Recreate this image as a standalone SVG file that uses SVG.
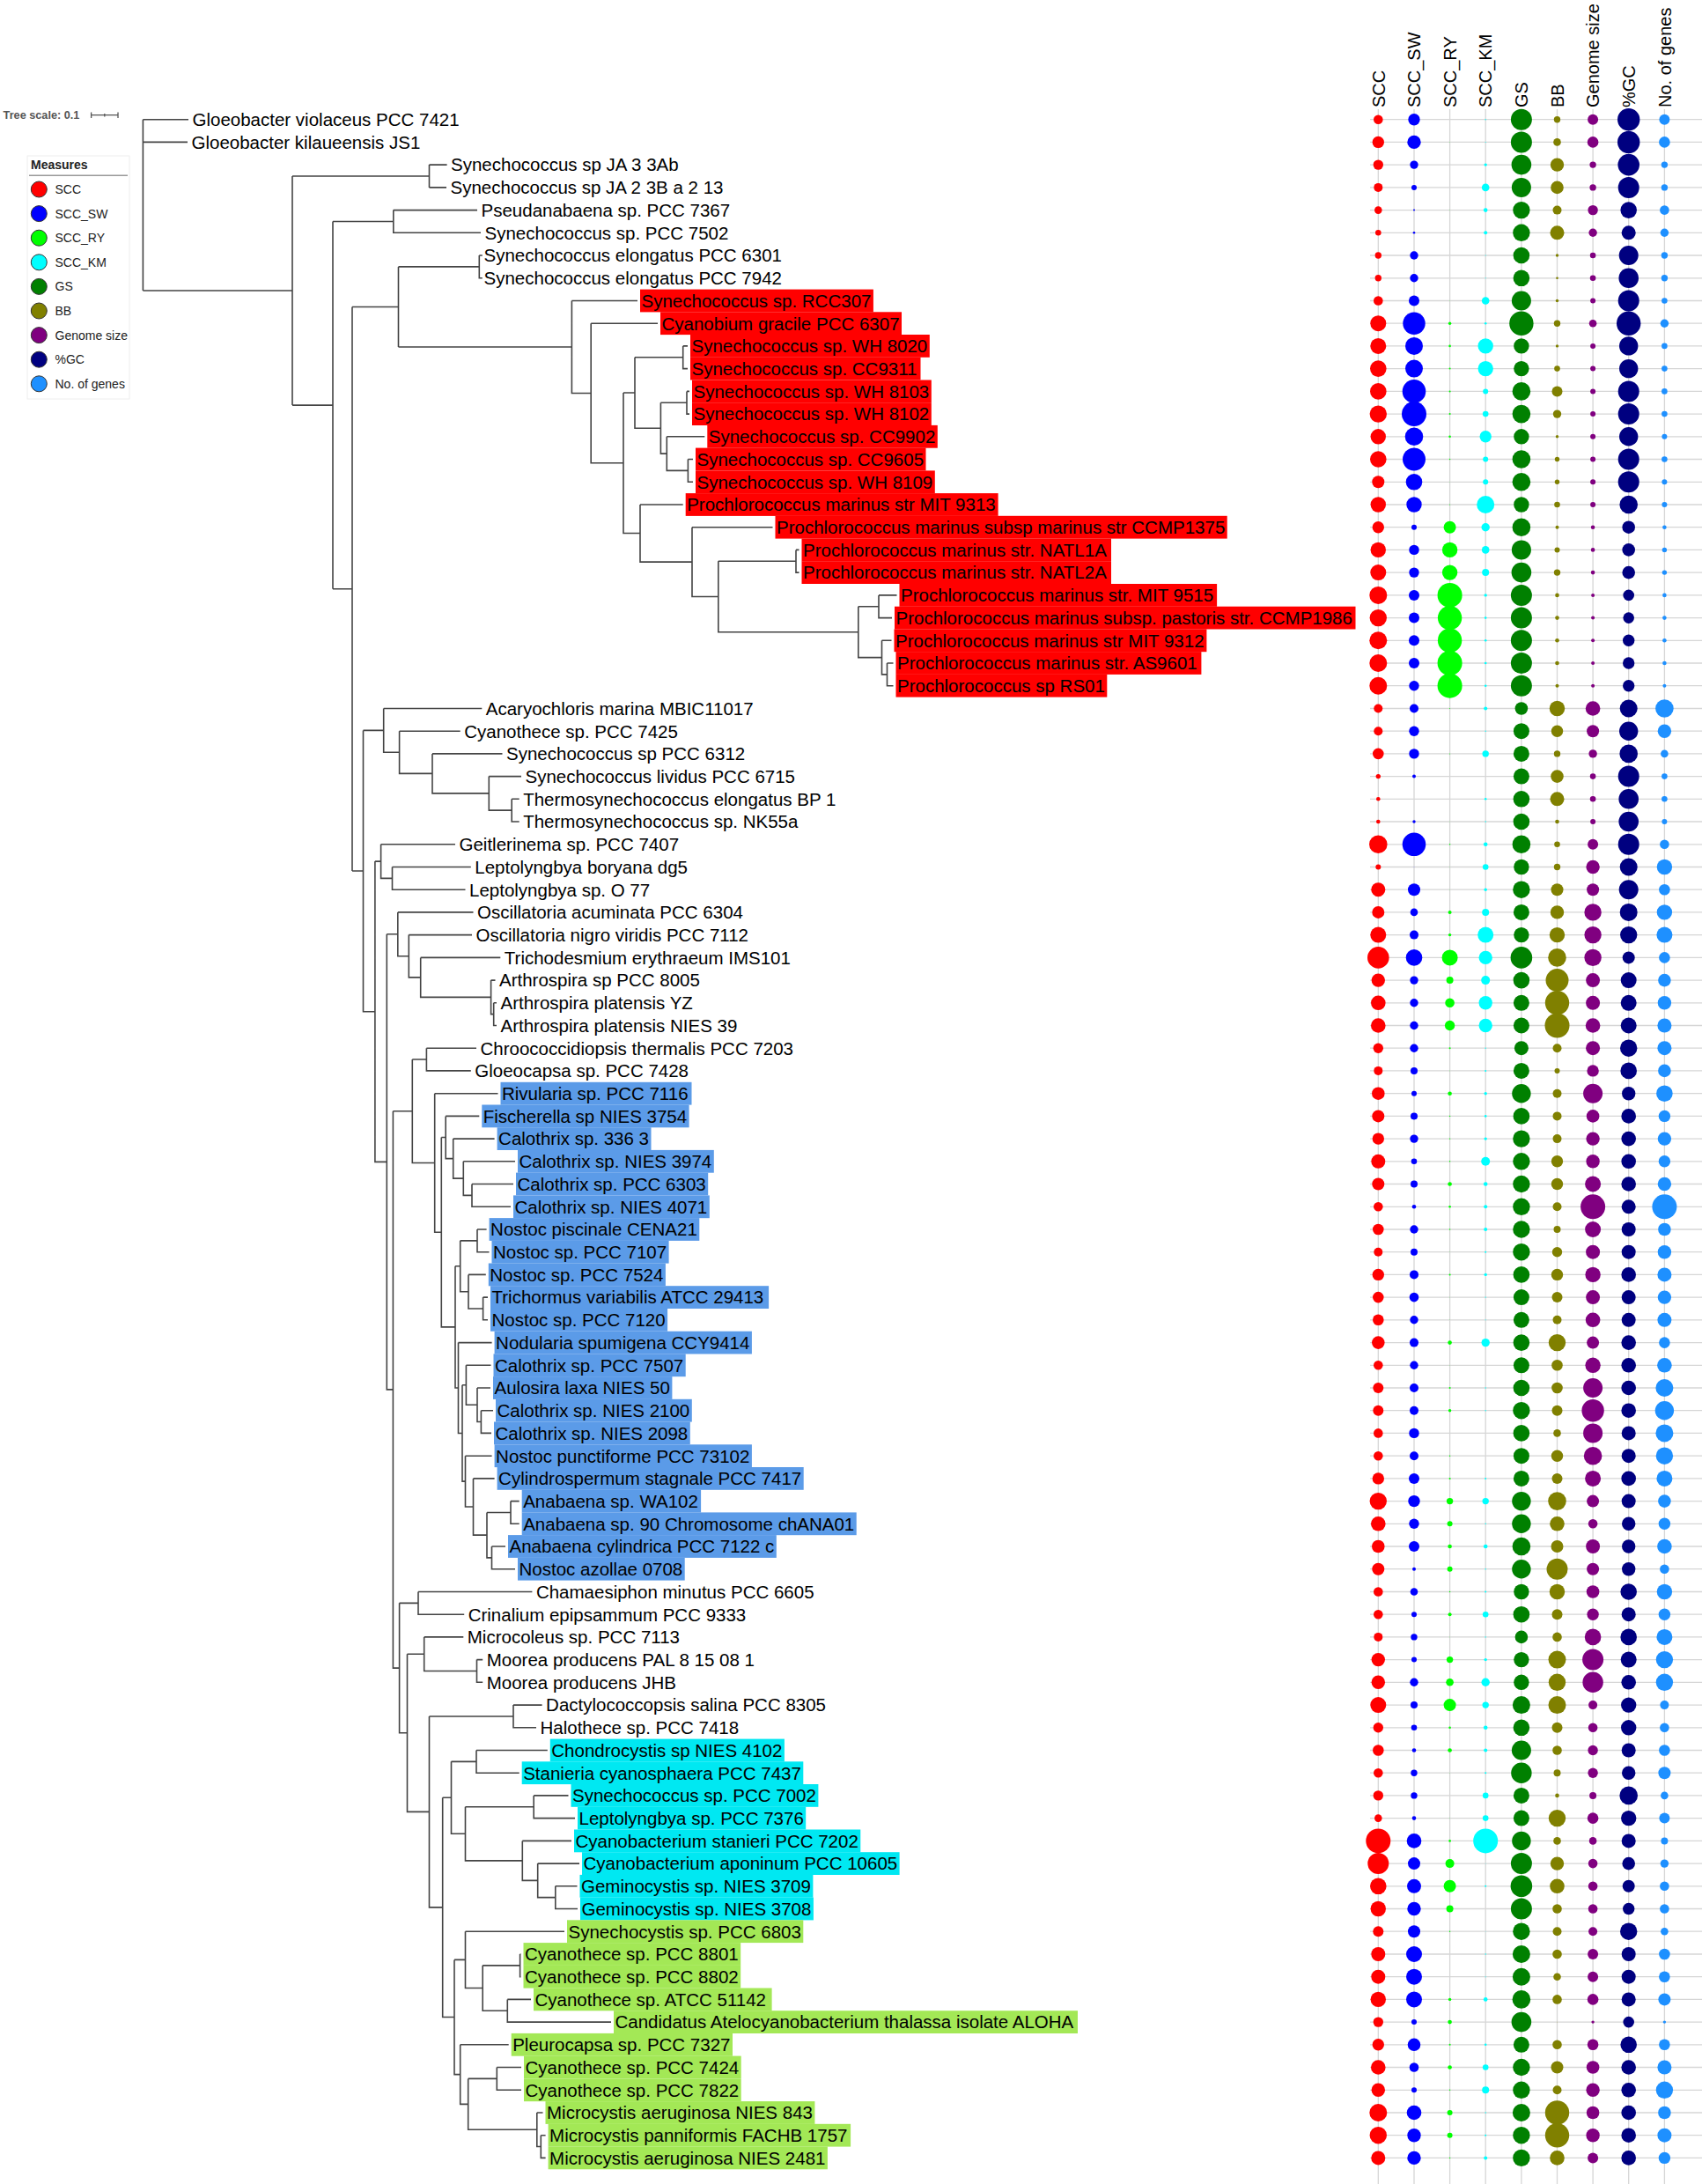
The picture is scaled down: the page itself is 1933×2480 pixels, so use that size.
<svg xmlns="http://www.w3.org/2000/svg" width="1933" height="2480" viewBox="0 0 1933 2480">
<style>
text{font-family:"Liberation Sans",Arial,sans-serif;font-size:20.5px;fill:#000}
.br{fill:none;stroke:#444;stroke-width:1.6}
.grid{fill:none;stroke:#d6d6d6;stroke-width:1.3}
.R{fill:#ff0000}.B{fill:#5b9be8}.C{fill:#00e8f2}.G{fill:#a3e856}
.a{fill:#ff0000}.b{fill:#0000ff}.c{fill:#00ff00}.d{fill:#00ffff}.e{fill:#008000}.f{fill:#808000}.g{fill:#800080}.h{fill:#000080}.k{fill:#1e90ff}
.hd{font-size:20px}
.lg{font-size:14px;fill:#222}
.lc{stroke:#333;stroke-width:1}
</style>
<rect width="1933" height="2480" fill="#fff"/>
<g id="grid" class="grid">
<path d="M1565.3 124V2480M1606 124V2480M1646.6 124V2480M1687.2 124V2480M1727.9 124V2480M1768.5 124V2480M1809.1 124V2480M1849.7 124V2480M1890.4 124V2480"/>
<path d="M1556 135.7H1933M1556 161.4H1933M1556 187.1H1933M1556 212.9H1933M1556 238.6H1933M1556 264.3H1933M1556 290H1933M1556 315.8H1933M1556 341.5H1933M1556 367.2H1933M1556 392.9H1933M1556 418.6H1933M1556 444.4H1933M1556 470.1H1933M1556 495.8H1933M1556 521.5H1933M1556 547.3H1933M1556 573H1933M1556 598.7H1933M1556 624.4H1933M1556 650.1H1933M1556 675.9H1933M1556 701.6H1933M1556 727.3H1933M1556 753H1933M1556 778.7H1933M1556 804.5H1933M1556 830.2H1933M1556 855.9H1933M1556 881.6H1933M1556 907.3H1933M1556 933H1933M1556 958.8H1933M1556 984.5H1933M1556 1010.2H1933M1556 1035.9H1933M1556 1061.6H1933M1556 1087.4H1933M1556 1113.1H1933M1556 1138.8H1933M1556 1164.5H1933M1556 1190.2H1933M1556 1215.9H1933M1556 1241.7H1933M1556 1267.4H1933M1556 1293.1H1933M1556 1318.8H1933M1556 1344.5H1933M1556 1370.3H1933M1556 1396H1933M1556 1421.7H1933M1556 1447.4H1933M1556 1473.1H1933M1556 1498.8H1933M1556 1524.6H1933M1556 1550.3H1933M1556 1576H1933M1556 1601.7H1933M1556 1627.4H1933M1556 1653.2H1933M1556 1678.9H1933M1556 1704.6H1933M1556 1730.3H1933M1556 1756H1933M1556 1781.7H1933M1556 1807.5H1933M1556 1833.2H1933M1556 1858.9H1933M1556 1884.6H1933M1556 1910.3H1933M1556 1936.1H1933M1556 1961.8H1933M1556 1987.5H1933M1556 2013.2H1933M1556 2038.9H1933M1556 2064.6H1933M1556 2090.4H1933M1556 2116.1H1933M1556 2141.8H1933M1556 2167.5H1933M1556 2193.2H1933M1556 2219H1933M1556 2244.7H1933M1556 2270.4H1933M1556 2296.1H1933M1556 2321.8H1933M1556 2347.5H1933M1556 2373.3H1933M1556 2399H1933M1556 2424.7H1933M1556 2450.4H1933"/>
</g>
<g id="headers" class="hd">
<text class="hd" transform="translate(1572.5,122) rotate(-90)">SCC</text>
<text class="hd" transform="translate(1613.2,122) rotate(-90)">SCC_SW</text>
<text class="hd" transform="translate(1653.8,122) rotate(-90)">SCC_RY</text>
<text class="hd" transform="translate(1694.4,122) rotate(-90)">SCC_KM</text>
<text class="hd" transform="translate(1735.1,122) rotate(-90)">GS</text>
<text class="hd" transform="translate(1775.7,122) rotate(-90)">BB</text>
<text class="hd" transform="translate(1816.3,122) rotate(-90)">Genome size</text>
<text class="hd" transform="translate(1856.9,122) rotate(-90)">%GC</text>
<text class="hd" transform="translate(1897.6,122) rotate(-90)">No. of genes</text>
</g>
<g id="branches" class="br">
<path d="M162.4,135.7V330.05M162.4,135.7H214M162.4,161.4H213M162.4,330.05H332
M332,200V460.1M332,200H487.5M332,460.1H378
M487.5,187.1V212.9M487.5,187.1H507.6M487.5,212.9H507
M378,251.45V668.75M378,251.45H446.8M378,668.75H400
M446.8,238.6V264.3H546M446.8,238.6H542
M400,348.45V989.05M400,348.45H452.5M400,989.05H412.5
M452.5,302.9V394M452.5,302.9H544.3M452.5,394H649.4
M544.3,290V315.8H547.8M544.3,290H547.8
M649.4,341.5V446.5H671.2M649.4,341.5H724
M671.2,367.2V525.8H708M671.2,367.2H747
M708,446V605.55H727M708,446H721
M721,405.75V486.2H750.4M721,405.75H775.7
M775.7,392.9V418.6H781M775.7,392.9H781
M750.4,457.25V515.1H757.3M750.4,457.25H780
M780,444.4V470.1H783M780,444.4H783
M757.3,495.8V534.4H781.4M757.3,495.8H800.3
M781.4,521.5V547.3H787M781.4,521.5H787
M727,573V638.1H786M727,573H775.7
M786,598.7V677.5H815.8M786,598.7H877.5
M815.8,637.25V717.7H974.8M815.8,637.25H904
M904,624.4V650.1H907.5M904,624.4H907.5
M974.8,688.75V746.6H1001.5M974.8,688.75H998
M998,675.9V701.6H1013M998,675.9H1018.5
M1001.5,727.3V765.85H1007.5M1001.5,727.3H1012.5
M1007.5,753V778.7H1014.5M1007.5,753H1014.5"/>
<path d="M412.5,829.4V1148.7H425.9M412.5,829.4H435.7
M435.7,804.5V854.3H453.6M435.7,804.5H547.3
M453.6,830.2V878.4H491M453.6,830.2H522.7
M491,855.9V900.9H555.3M491,855.9H570.5
M555.3,881.6V920.15H581.2M555.3,881.6H592
M581.2,907.3V933H589.7M581.2,907.3H589.7
M425.9,978.1V1319.35H439.3M425.9,978.1H432.6
M432.6,958.8V997.35H445.5M432.6,958.8H517
M445.5,984.5V1010.2H528.5M445.5,984.5H534.8
M439.3,1060.8V1577.9H446.4M439.3,1060.8H451.8
M451.8,1035.9V1085.75H464.3M451.8,1035.9H537.5
M464.3,1061.6V1109.9H477.7M464.3,1061.6H536
M477.7,1087.4V1132.4H557.6M477.7,1087.4H568.3
M557.6,1113.1V1151.65H560.7M557.6,1113.1H562.5
M560.7,1138.8V1164.5H564M560.7,1138.8H564
M446.4,1261.75V1894.1H453.6M446.4,1261.75H468.3
M468.3,1203.05V1320.45H493.7M468.3,1203.05H484.4
M484.4,1190.2V1215.9H534.8M484.4,1190.2H541
M493.7,1241.7V1399.2H501.3M493.7,1241.7H565.5
M501.3,1291.5V1506.9H517M501.3,1291.5H506.2
M506.2,1267.4V1315.6H514.7M506.2,1267.4H544.3
M514.7,1293.1V1338.1H526.3M514.7,1293.1H561.6
M526.3,1318.8V1357.4H536M526.3,1318.8H585
M536,1344.5V1370.3H580M536,1344.5H583
M517,1437.8V1576H520.5M517,1437.8H522.7
M522.7,1408.85V1466.7H532M522.7,1408.85H542
M542,1396V1421.7H555.5M542,1396H552.6
M532,1447.4V1485.95H548.6M532,1447.4H551.8
M548.6,1473.1V1498.8H554M548.6,1473.1H554
M520.5,1524.6V1627.45H525M520.5,1524.6H558.6
M525,1572.8V1682.1H528.5M525,1572.8H529.4
M529.4,1550.3V1595.3H542M529.4,1550.3H557.5
M542,1576V1614.55H546.4M542,1576H557
M546.4,1601.7V1627.4H558M546.4,1601.7H560
M528.5,1653.2V1711H537.5M528.5,1653.2H558.6
M537.5,1678.9V1743.15H553M537.5,1678.9H561.6
M553,1717.45V1768.85H558.5M553,1717.45H580
M580,1704.6V1730.3H589.7M580,1704.6H589.7
M558.5,1756V1781.7H585M558.5,1756H574"/>
<path d="M453.6,1820.35V1967.8H462.5M453.6,1820.35H475
M475,1807.5V1833.2H527.2M475,1807.5H604.4
M462.5,1878.2V2057.4H487.5M462.5,1878.2H481.7
M481.7,1858.9V1897.45H541.5M481.7,1858.9H526.3
M541.5,1884.6V1910.3H548.2M541.5,1884.6H548.2
M487.5,1948.95V2165.9H502.7M487.5,1948.95H583
M583,1936.1V1961.8H609M583,1936.1H615.6
M502.7,2041.3V2290.5H516M502.7,2041.3H512.5
M512.5,2000.35V2082.3H528.5M512.5,2000.35H541
M541,1987.5V2013.2H589.7M541,1987.5H621.8
M528.5,2051.75V2112.9H593.3M528.5,2051.75H606.2
M606.2,2038.9V2064.6H653M606.2,2038.9H645.5
M593.3,2090.4V2135.4H610.7M593.3,2090.4H649
M610.7,2116.1V2154.65H630.8M610.7,2116.1H658
M630.8,2141.8V2167.5H656M630.8,2141.8H655.5
M516,2225.4V2355.6H522.7M516,2225.4H528.5
M528.5,2193.2V2257.55H548.2M528.5,2193.2H641
M548.2,2231.85V2283.25H576.3M548.2,2231.85H590.6
M590.6,2219V2244.7H591.5M590.6,2219H591.5
M576.3,2270.4V2296.1H694M576.3,2270.4H603
M522.7,2321.8V2389.35H531.7M522.7,2321.8H577.7
M531.7,2360.4V2418.3H609.8M531.7,2360.4H564.3
M564.3,2347.5V2373.3H592M564.3,2347.5H592
M609.8,2399V2437.55H614.3M609.8,2399H616.5
M614.3,2424.7V2450.4H619.6M614.3,2424.7H619.6"/>
</g>
<g id="leaves">
<g id="n1" transform="translate(0,135.7)"><text x="218.5" y="7.3">Gloeobacter violaceus PCC 7421</text><circle class="a" cx="1565.3" r="5.3"/><circle class="b" cx="1606" r="6.7"/><circle class="d" cx="1687.2" r="0.7"/><circle class="e" cx="1727.9" r="12"/><circle class="f" cx="1768.5" r="3.7"/><circle class="g" cx="1809.1" r="6"/><circle class="h" cx="1849.7" r="12.7"/><circle class="k" cx="1890.4" r="6"/></g>
<g id="n2" transform="translate(0,161.4)"><text x="217.5" y="7.3">Gloeobacter kilaueensis JS1</text><circle class="a" cx="1565.3" r="6.7"/><circle class="b" cx="1606" r="7.7"/><circle class="c" cx="1646.6" r="0.3"/><circle class="d" cx="1687.2" r="0.5"/><circle class="e" cx="1727.9" r="12"/><circle class="f" cx="1768.5" r="4.3"/><circle class="g" cx="1809.1" r="6.3"/><circle class="h" cx="1849.7" r="12.7"/><circle class="k" cx="1890.4" r="6.3"/></g>
<g id="n3" transform="translate(0,187.1)"><text x="512" y="7.3">Synechococcus sp JA 3 3Ab</text><circle class="a" cx="1565.3" r="5.7"/><circle class="b" cx="1606" r="4.7"/><circle class="d" cx="1687.2" r="1.7"/><circle class="e" cx="1727.9" r="11.3"/><circle class="f" cx="1768.5" r="7.7"/><circle class="g" cx="1809.1" r="3.7"/><circle class="h" cx="1849.7" r="12.3"/><circle class="k" cx="1890.4" r="3.7"/></g>
<g id="n4" transform="translate(0,212.9)"><text x="511.5" y="7.3">Synechococcus sp JA 2 3B a 2 13</text><circle class="a" cx="1565.3" r="5"/><circle class="b" cx="1606" r="3"/><circle class="d" cx="1687.2" r="4.3"/><circle class="e" cx="1727.9" r="11"/><circle class="f" cx="1768.5" r="7.3"/><circle class="g" cx="1809.1" r="3.7"/><circle class="h" cx="1849.7" r="12"/><circle class="k" cx="1890.4" r="3.7"/></g>
<g id="n5" transform="translate(0,238.6)"><text x="546.5" y="7.3">Pseudanabaena sp. PCC 7367</text><circle class="a" cx="1565.3" r="4.3"/><circle class="b" cx="1606" r="1"/><circle class="c" cx="1646.6" r="0.3"/><circle class="d" cx="1687.2" r="2.3"/><circle class="e" cx="1727.9" r="9.7"/><circle class="f" cx="1768.5" r="5"/><circle class="g" cx="1809.1" r="5.7"/><circle class="h" cx="1849.7" r="9.3"/><circle class="k" cx="1890.4" r="5.3"/></g>
<g id="n6" transform="translate(0,264.3)"><text x="550.5" y="7.3">Synechococcus sp. PCC 7502</text><circle class="a" cx="1565.3" r="3.3"/><circle class="b" cx="1606" r="1.3"/><circle class="d" cx="1687.2" r="2"/><circle class="e" cx="1727.9" r="9.7"/><circle class="f" cx="1768.5" r="8"/><circle class="g" cx="1809.1" r="4.7"/><circle class="h" cx="1849.7" r="8"/><circle class="k" cx="1890.4" r="4.7"/></g>
<g id="n7" transform="translate(0,290)"><text x="549.5" y="7.3">Synechococcus elongatus PCC 6301</text><circle class="a" cx="1565.3" r="3.7"/><circle class="b" cx="1606" r="4.7"/><circle class="d" cx="1687.2" r="0.5"/><circle class="e" cx="1727.9" r="9.3"/><circle class="f" cx="1768.5" r="1.7"/><circle class="g" cx="1809.1" r="3.3"/><circle class="h" cx="1849.7" r="11"/><circle class="k" cx="1890.4" r="3.7"/></g>
<g id="n8" transform="translate(0,315.8)"><text x="549.5" y="7.3">Synechococcus elongatus PCC 7942</text><circle class="a" cx="1565.3" r="3.7"/><circle class="b" cx="1606" r="4.7"/><circle class="d" cx="1687.2" r="0.5"/><circle class="e" cx="1727.9" r="9.3"/><circle class="f" cx="1768.5" r="1.3"/><circle class="g" cx="1809.1" r="3.3"/><circle class="h" cx="1849.7" r="11.3"/><circle class="k" cx="1890.4" r="3.7"/></g>
<g id="n9" transform="translate(0,341.5)"><rect class="R" x="727" y="-12.9" width="264.9" height="25.8"/><text x="728.5" y="7.3">Synechococcus sp. RCC307</text><circle class="a" cx="1565.3" r="5.3"/><circle class="b" cx="1606" r="6"/><circle class="c" cx="1646.6" r="0.3"/><circle class="d" cx="1687.2" r="4.3"/><circle class="e" cx="1727.9" r="11"/><circle class="f" cx="1768.5" r="1.7"/><circle class="g" cx="1809.1" r="3"/><circle class="h" cx="1849.7" r="12"/><circle class="k" cx="1890.4" r="3.3"/></g>
<g id="n10" transform="translate(0,367.2)"><rect class="R" x="750" y="-12.9" width="274" height="25.8"/><text x="751.5" y="7.3">Cyanobium gracile PCC 6307</text><circle class="a" cx="1565.3" r="9"/><circle class="b" cx="1606" r="12.7"/><circle class="c" cx="1646.6" r="1.7"/><circle class="d" cx="1687.2" r="1.3"/><circle class="e" cx="1727.9" r="13.7"/><circle class="f" cx="1768.5" r="3.7"/><circle class="g" cx="1809.1" r="4.3"/><circle class="h" cx="1849.7" r="13.7"/><circle class="k" cx="1890.4" r="4.7"/></g>
<g id="n11" transform="translate(0,392.9)"><rect class="R" x="784" y="-12.9" width="271.8" height="25.8"/><text x="785.5" y="7.3">Synechococcus sp. WH 8020</text><circle class="a" cx="1565.3" r="9"/><circle class="b" cx="1606" r="10"/><circle class="c" cx="1646.6" r="1.3"/><circle class="d" cx="1687.2" r="8.7"/><circle class="e" cx="1727.9" r="8.7"/><circle class="f" cx="1768.5" r="1.7"/><circle class="g" cx="1809.1" r="3"/><circle class="h" cx="1849.7" r="10.7"/><circle class="k" cx="1890.4" r="3.3"/></g>
<g id="n12" transform="translate(0,418.6)"><rect class="R" x="784" y="-12.9" width="261.5" height="25.8"/><text x="785.5" y="7.3">Synechococcus sp. CC9311</text><circle class="a" cx="1565.3" r="9.3"/><circle class="b" cx="1606" r="10"/><circle class="c" cx="1646.6" r="1"/><circle class="d" cx="1687.2" r="8.7"/><circle class="e" cx="1727.9" r="8.7"/><circle class="f" cx="1768.5" r="3.3"/><circle class="g" cx="1809.1" r="3"/><circle class="h" cx="1849.7" r="10.7"/><circle class="k" cx="1890.4" r="3.3"/></g>
<g id="n13" transform="translate(0,444.4)"><rect class="R" x="786" y="-12.9" width="271.8" height="25.8"/><text x="787.5" y="7.3">Synechococcus sp. WH 8103</text><circle class="a" cx="1565.3" r="9.3"/><circle class="b" cx="1606" r="13.3"/><circle class="c" cx="1646.6" r="1"/><circle class="d" cx="1687.2" r="3"/><circle class="e" cx="1727.9" r="10.3"/><circle class="f" cx="1768.5" r="6"/><circle class="g" cx="1809.1" r="3"/><circle class="h" cx="1849.7" r="12"/><circle class="k" cx="1890.4" r="3.3"/></g>
<g id="n14" transform="translate(0,470.1)"><rect class="R" x="786" y="-12.9" width="271.8" height="25.8"/><text x="787.5" y="7.3">Synechococcus sp. WH 8102</text><circle class="a" cx="1565.3" r="9.7"/><circle class="b" cx="1606" r="14"/><circle class="c" cx="1646.6" r="1"/><circle class="d" cx="1687.2" r="3.3"/><circle class="e" cx="1727.9" r="10.3"/><circle class="f" cx="1768.5" r="4.7"/><circle class="g" cx="1809.1" r="3"/><circle class="h" cx="1849.7" r="12"/><circle class="k" cx="1890.4" r="3.3"/></g>
<g id="n15" transform="translate(0,495.8)"><rect class="R" x="803.3" y="-12.9" width="261.5" height="25.8"/><text x="804.8" y="7.3">Synechococcus sp. CC9902</text><circle class="a" cx="1565.3" r="8.7"/><circle class="b" cx="1606" r="10.3"/><circle class="c" cx="1646.6" r="1.3"/><circle class="d" cx="1687.2" r="6.7"/><circle class="e" cx="1727.9" r="8.7"/><circle class="f" cx="1768.5" r="1.7"/><circle class="g" cx="1809.1" r="3"/><circle class="h" cx="1849.7" r="10.7"/><circle class="k" cx="1890.4" r="3"/></g>
<g id="n16" transform="translate(0,521.5)"><rect class="R" x="790" y="-12.9" width="261.5" height="25.8"/><text x="791.5" y="7.3">Synechococcus sp. CC9605</text><circle class="a" cx="1565.3" r="9.3"/><circle class="b" cx="1606" r="13"/><circle class="c" cx="1646.6" r="0.7"/><circle class="d" cx="1687.2" r="3"/><circle class="e" cx="1727.9" r="10.3"/><circle class="f" cx="1768.5" r="2.7"/><circle class="g" cx="1809.1" r="3"/><circle class="h" cx="1849.7" r="12"/><circle class="k" cx="1890.4" r="3.3"/></g>
<g id="n17" transform="translate(0,547.3)"><rect class="R" x="790" y="-12.9" width="271.8" height="25.8"/><text x="791.5" y="7.3">Synechococcus sp. WH 8109</text><circle class="a" cx="1565.3" r="7"/><circle class="b" cx="1606" r="9.3"/><circle class="c" cx="1646.6" r="0.3"/><circle class="d" cx="1687.2" r="3"/><circle class="e" cx="1727.9" r="10.3"/><circle class="f" cx="1768.5" r="2.7"/><circle class="g" cx="1809.1" r="3"/><circle class="h" cx="1849.7" r="12"/><circle class="k" cx="1890.4" r="3"/></g>
<g id="n18" transform="translate(0,573)"><rect class="R" x="778.7" y="-12.9" width="354.9" height="25.8"/><text x="780.2" y="7.3">Prochlorococcus marinus str MIT 9313</text><circle class="a" cx="1565.3" r="8.7"/><circle class="b" cx="1606" r="8.7"/><circle class="c" cx="1646.6" r="0.5"/><circle class="d" cx="1687.2" r="10"/><circle class="e" cx="1727.9" r="8.7"/><circle class="f" cx="1768.5" r="3.3"/><circle class="g" cx="1809.1" r="3"/><circle class="h" cx="1849.7" r="10.3"/><circle class="k" cx="1890.4" r="3"/></g>
<g id="n19" transform="translate(0,598.7)"><rect class="R" x="880.5" y="-12.9" width="513.2" height="25.8"/><text x="882" y="7.3">Prochlorococcus marinus subsp marinus str CCMP1375</text><circle class="a" cx="1565.3" r="6.7"/><circle class="b" cx="1606" r="3"/><circle class="c" cx="1646.6" r="7"/><circle class="d" cx="1687.2" r="4.7"/><circle class="e" cx="1727.9" r="10.3"/><circle class="f" cx="1768.5" r="2"/><circle class="g" cx="1809.1" r="2.3"/><circle class="h" cx="1849.7" r="7.3"/><circle class="k" cx="1890.4" r="2.3"/></g>
<g id="n20" transform="translate(0,624.4)"><rect class="R" x="910.5" y="-12.9" width="351.5" height="25.8"/><text x="912" y="7.3">Prochlorococcus marinus str. NATL1A</text><circle class="a" cx="1565.3" r="8.7"/><circle class="b" cx="1606" r="5.7"/><circle class="c" cx="1646.6" r="8.7"/><circle class="d" cx="1687.2" r="4.3"/><circle class="e" cx="1727.9" r="11"/><circle class="f" cx="1768.5" r="3"/><circle class="g" cx="1809.1" r="2.3"/><circle class="h" cx="1849.7" r="7.3"/><circle class="k" cx="1890.4" r="2.7"/></g>
<g id="n21" transform="translate(0,650.1)"><rect class="R" x="910.5" y="-12.9" width="351.5" height="25.8"/><text x="912" y="7.3">Prochlorococcus marinus str. NATL2A</text><circle class="a" cx="1565.3" r="9"/><circle class="b" cx="1606" r="5.7"/><circle class="c" cx="1646.6" r="8.7"/><circle class="d" cx="1687.2" r="4"/><circle class="e" cx="1727.9" r="11.3"/><circle class="f" cx="1768.5" r="3.7"/><circle class="g" cx="1809.1" r="2.3"/><circle class="h" cx="1849.7" r="7.3"/><circle class="k" cx="1890.4" r="2.7"/></g>
<g id="n22" transform="translate(0,675.9)"><rect class="R" x="1021.5" y="-12.9" width="360.6" height="25.8"/><text x="1023" y="7.3">Prochlorococcus marinus str. MIT 9515</text><circle class="a" cx="1565.3" r="10"/><circle class="b" cx="1606" r="6"/><circle class="c" cx="1646.6" r="14"/><circle class="d" cx="1687.2" r="1.7"/><circle class="e" cx="1727.9" r="12"/><circle class="f" cx="1768.5" r="2.3"/><circle class="g" cx="1809.1" r="2"/><circle class="h" cx="1849.7" r="6.3"/><circle class="k" cx="1890.4" r="2.3"/></g>
<g id="n23" transform="translate(0,701.6)"><rect class="R" x="1016" y="-12.9" width="523.5" height="25.8"/><text x="1017.5" y="7.3">Prochlorococcus marinus subsp. pastoris str. CCMP1986</text><circle class="a" cx="1565.3" r="9.7"/><circle class="b" cx="1606" r="6"/><circle class="c" cx="1646.6" r="13.7"/><circle class="d" cx="1687.2" r="1.3"/><circle class="e" cx="1727.9" r="12"/><circle class="f" cx="1768.5" r="2.3"/><circle class="g" cx="1809.1" r="2"/><circle class="h" cx="1849.7" r="6.3"/><circle class="k" cx="1890.4" r="2.3"/></g>
<g id="n24" transform="translate(0,727.3)"><rect class="R" x="1015.5" y="-12.9" width="354.9" height="25.8"/><text x="1017" y="7.3">Prochlorococcus marinus str MIT 9312</text><circle class="a" cx="1565.3" r="10"/><circle class="b" cx="1606" r="6"/><circle class="c" cx="1646.6" r="13.7"/><circle class="d" cx="1687.2" r="1.3"/><circle class="e" cx="1727.9" r="12"/><circle class="f" cx="1768.5" r="2.3"/><circle class="g" cx="1809.1" r="2"/><circle class="h" cx="1849.7" r="6.7"/><circle class="k" cx="1890.4" r="2.3"/></g>
<g id="n25" transform="translate(0,753)"><rect class="R" x="1017.5" y="-12.9" width="346.9" height="25.8"/><text x="1019" y="7.3">Prochlorococcus marinus str. AS9601</text><circle class="a" cx="1565.3" r="10"/><circle class="b" cx="1606" r="6"/><circle class="c" cx="1646.6" r="14"/><circle class="d" cx="1687.2" r="1.3"/><circle class="e" cx="1727.9" r="12"/><circle class="f" cx="1768.5" r="2.3"/><circle class="g" cx="1809.1" r="2"/><circle class="h" cx="1849.7" r="6.7"/><circle class="k" cx="1890.4" r="2.3"/></g>
<g id="n26" transform="translate(0,778.7)"><rect class="R" x="1017.5" y="-12.9" width="239.8" height="25.8"/><text x="1019" y="7.3">Prochlorococcus sp RS01</text><circle class="a" cx="1565.3" r="10"/><circle class="b" cx="1606" r="5.7"/><circle class="c" cx="1646.6" r="14"/><circle class="d" cx="1687.2" r="1.3"/><circle class="e" cx="1727.9" r="12"/><circle class="f" cx="1768.5" r="2"/><circle class="g" cx="1809.1" r="2"/><circle class="h" cx="1849.7" r="6.7"/><circle class="k" cx="1890.4" r="2"/></g>
<g id="n27" transform="translate(0,804.5)"><text x="551.8" y="7.3">Acaryochloris marina MBIC11017</text><circle class="a" cx="1565.3" r="5"/><circle class="b" cx="1606" r="5"/><circle class="c" cx="1646.6" r="0.5"/><circle class="d" cx="1687.2" r="2"/><circle class="e" cx="1727.9" r="7.3"/><circle class="f" cx="1768.5" r="8.7"/><circle class="g" cx="1809.1" r="8.3"/><circle class="h" cx="1849.7" r="10"/><circle class="k" cx="1890.4" r="10.3"/></g>
<g id="n28" transform="translate(0,830.2)"><text x="527.2" y="7.3">Cyanothece sp. PCC 7425</text><circle class="a" cx="1565.3" r="5"/><circle class="b" cx="1606" r="5.7"/><circle class="d" cx="1687.2" r="0.7"/><circle class="e" cx="1727.9" r="9"/><circle class="f" cx="1768.5" r="6.7"/><circle class="g" cx="1809.1" r="7"/><circle class="h" cx="1849.7" r="10.7"/><circle class="k" cx="1890.4" r="7.7"/></g>
<g id="n29" transform="translate(0,855.9)"><text x="575" y="7.3">Synechococcus sp PCC 6312</text><circle class="a" cx="1565.3" r="6.3"/><circle class="b" cx="1606" r="5.7"/><circle class="c" cx="1646.6" r="0.5"/><circle class="d" cx="1687.2" r="3.7"/><circle class="e" cx="1727.9" r="9"/><circle class="f" cx="1768.5" r="3.7"/><circle class="g" cx="1809.1" r="4.7"/><circle class="h" cx="1849.7" r="10.3"/><circle class="k" cx="1890.4" r="4.3"/></g>
<g id="n30" transform="translate(0,881.6)"><text x="596.5" y="7.3">Synechococcus lividus PCC 6715</text><circle class="a" cx="1565.3" r="2.7"/><circle class="b" cx="1606" r="2"/><circle class="e" cx="1727.9" r="9"/><circle class="f" cx="1768.5" r="7.3"/><circle class="g" cx="1809.1" r="3.3"/><circle class="h" cx="1849.7" r="12"/><circle class="k" cx="1890.4" r="3.3"/></g>
<g id="n31" transform="translate(0,907.3)"><text x="594.2" y="7.3">Thermosynechococcus elongatus BP 1</text><circle class="a" cx="1565.3" r="2.3"/><circle class="d" cx="1687.2" r="1.3"/><circle class="e" cx="1727.9" r="9.3"/><circle class="f" cx="1768.5" r="8"/><circle class="g" cx="1809.1" r="3.3"/><circle class="h" cx="1849.7" r="11.3"/><circle class="k" cx="1890.4" r="3.3"/></g>
<g id="n32" transform="translate(0,933)"><text x="594.2" y="7.3">Thermosynechococcus sp. NK55a</text><circle class="a" cx="1565.3" r="2.3"/><circle class="b" cx="1606" r="1.7"/><circle class="c" cx="1646.6" r="0.3"/><circle class="d" cx="1687.2" r="0.7"/><circle class="e" cx="1727.9" r="9.3"/><circle class="f" cx="1768.5" r="2.3"/><circle class="g" cx="1809.1" r="3"/><circle class="h" cx="1849.7" r="11.3"/><circle class="k" cx="1890.4" r="3"/></g>
<g id="n33" transform="translate(0,958.8)"><text x="521.5" y="7.3">Geitlerinema sp. PCC 7407</text><circle class="a" cx="1565.3" r="10.3"/><circle class="b" cx="1606" r="13.3"/><circle class="c" cx="1646.6" r="0.7"/><circle class="d" cx="1687.2" r="2.3"/><circle class="e" cx="1727.9" r="10.3"/><circle class="f" cx="1768.5" r="3.3"/><circle class="g" cx="1809.1" r="6"/><circle class="h" cx="1849.7" r="12"/><circle class="k" cx="1890.4" r="5.3"/></g>
<g id="n34" transform="translate(0,984.5)"><text x="539.3" y="7.3">Leptolyngbya boryana dg5</text><circle class="a" cx="1565.3" r="3"/><circle class="b" cx="1606" r="0.3"/><circle class="c" cx="1646.6" r="0.3"/><circle class="d" cx="1687.2" r="3.3"/><circle class="e" cx="1727.9" r="8.7"/><circle class="f" cx="1768.5" r="3.7"/><circle class="g" cx="1809.1" r="7.7"/><circle class="h" cx="1849.7" r="10"/><circle class="k" cx="1890.4" r="8.7"/></g>
<g id="n35" transform="translate(0,1010.2)"><text x="533" y="7.3">Leptolyngbya sp. O 77</text><circle class="a" cx="1565.3" r="8"/><circle class="b" cx="1606" r="7"/><circle class="c" cx="1646.6" r="0.3"/><circle class="d" cx="1687.2" r="1.7"/><circle class="e" cx="1727.9" r="9.7"/><circle class="f" cx="1768.5" r="7"/><circle class="g" cx="1809.1" r="7"/><circle class="h" cx="1849.7" r="11"/><circle class="k" cx="1890.4" r="6.3"/></g>
<g id="n36" transform="translate(0,1035.9)"><text x="542" y="7.3">Oscillatoria acuminata PCC 6304</text><circle class="a" cx="1565.3" r="7"/><circle class="b" cx="1606" r="4.3"/><circle class="c" cx="1646.6" r="2"/><circle class="d" cx="1687.2" r="4"/><circle class="e" cx="1727.9" r="9"/><circle class="f" cx="1768.5" r="7.7"/><circle class="g" cx="1809.1" r="9.7"/><circle class="h" cx="1849.7" r="10"/><circle class="k" cx="1890.4" r="8.7"/></g>
<g id="n37" transform="translate(0,1061.6)"><text x="540.5" y="7.3">Oscillatoria nigro viridis PCC 7112</text><circle class="a" cx="1565.3" r="9"/><circle class="b" cx="1606" r="5"/><circle class="c" cx="1646.6" r="1.7"/><circle class="d" cx="1687.2" r="9"/><circle class="e" cx="1727.9" r="8.7"/><circle class="f" cx="1768.5" r="8.7"/><circle class="g" cx="1809.1" r="9.7"/><circle class="h" cx="1849.7" r="9.7"/><circle class="k" cx="1890.4" r="9"/></g>
<g id="n38" transform="translate(0,1087.4)"><text x="572.8" y="7.3">Trichodesmium erythraeum IMS101</text><circle class="a" cx="1565.3" r="12.3"/><circle class="b" cx="1606" r="9.3"/><circle class="c" cx="1646.6" r="9"/><circle class="d" cx="1687.2" r="7.7"/><circle class="e" cx="1727.9" r="12.3"/><circle class="f" cx="1768.5" r="10.3"/><circle class="g" cx="1809.1" r="9.7"/><circle class="h" cx="1849.7" r="7"/><circle class="k" cx="1890.4" r="6.3"/></g>
<g id="n39" transform="translate(0,1113.1)"><text x="567" y="7.3">Arthrospira sp PCC 8005</text><circle class="a" cx="1565.3" r="7.7"/><circle class="b" cx="1606" r="4.7"/><circle class="c" cx="1646.6" r="4"/><circle class="d" cx="1687.2" r="5"/><circle class="e" cx="1727.9" r="9.3"/><circle class="f" cx="1768.5" r="13"/><circle class="g" cx="1809.1" r="8"/><circle class="h" cx="1849.7" r="9"/><circle class="k" cx="1890.4" r="7.3"/></g>
<g id="n40" transform="translate(0,1138.8)"><text x="568.5" y="7.3">Arthrospira platensis YZ</text><circle class="a" cx="1565.3" r="8.3"/><circle class="b" cx="1606" r="4.7"/><circle class="c" cx="1646.6" r="5.3"/><circle class="d" cx="1687.2" r="7.7"/><circle class="e" cx="1727.9" r="9"/><circle class="f" cx="1768.5" r="13.7"/><circle class="g" cx="1809.1" r="8"/><circle class="h" cx="1849.7" r="9"/><circle class="k" cx="1890.4" r="7.7"/></g>
<g id="n41" transform="translate(0,1164.5)"><text x="568.5" y="7.3">Arthrospira platensis NIES 39</text><circle class="a" cx="1565.3" r="8.3"/><circle class="b" cx="1606" r="4.7"/><circle class="c" cx="1646.6" r="5.7"/><circle class="d" cx="1687.2" r="7.7"/><circle class="e" cx="1727.9" r="9"/><circle class="f" cx="1768.5" r="14"/><circle class="g" cx="1809.1" r="8.3"/><circle class="h" cx="1849.7" r="9"/><circle class="k" cx="1890.4" r="8"/></g>
<g id="n42" transform="translate(0,1190.2)"><text x="545.5" y="7.3">Chroococcidiopsis thermalis PCC 7203</text><circle class="a" cx="1565.3" r="5.7"/><circle class="b" cx="1606" r="4.7"/><circle class="c" cx="1646.6" r="1"/><circle class="d" cx="1687.2" r="0.7"/><circle class="e" cx="1727.9" r="8"/><circle class="f" cx="1768.5" r="5"/><circle class="g" cx="1809.1" r="8"/><circle class="h" cx="1849.7" r="9.7"/><circle class="k" cx="1890.4" r="8"/></g>
<g id="n43" transform="translate(0,1215.9)"><text x="539.3" y="7.3">Gloeocapsa sp. PCC 7428</text><circle class="a" cx="1565.3" r="5"/><circle class="b" cx="1606" r="4"/><circle class="c" cx="1646.6" r="0.3"/><circle class="d" cx="1687.2" r="1"/><circle class="e" cx="1727.9" r="9"/><circle class="f" cx="1768.5" r="3"/><circle class="g" cx="1809.1" r="6.7"/><circle class="h" cx="1849.7" r="9.3"/><circle class="k" cx="1890.4" r="7.3"/></g>
<g id="n44" transform="translate(0,1241.7)"><rect class="B" x="568.5" y="-12.9" width="217" height="25.8"/><text x="570" y="7.3">Rivularia sp. PCC 7116</text><circle class="a" cx="1565.3" r="7.3"/><circle class="b" cx="1606" r="3"/><circle class="c" cx="1646.6" r="2.3"/><circle class="d" cx="1687.2" r="1.7"/><circle class="e" cx="1727.9" r="10.7"/><circle class="f" cx="1768.5" r="5"/><circle class="g" cx="1809.1" r="11"/><circle class="h" cx="1849.7" r="7.7"/><circle class="k" cx="1890.4" r="9.3"/></g>
<g id="n45" transform="translate(0,1267.4)"><rect class="B" x="547.3" y="-12.9" width="235.3" height="25.8"/><text x="548.8" y="7.3">Fischerella sp NIES 3754</text><circle class="a" cx="1565.3" r="7"/><circle class="b" cx="1606" r="4"/><circle class="c" cx="1646.6" r="0.7"/><circle class="d" cx="1687.2" r="1.3"/><circle class="e" cx="1727.9" r="9.3"/><circle class="f" cx="1768.5" r="5"/><circle class="g" cx="1809.1" r="7.3"/><circle class="h" cx="1849.7" r="8.3"/><circle class="k" cx="1890.4" r="6.7"/></g>
<g id="n46" transform="translate(0,1293.1)"><rect class="B" x="564.6" y="-12.9" width="174.9" height="25.8"/><text x="566.1" y="7.3">Calothrix sp. 336 3</text><circle class="a" cx="1565.3" r="6.7"/><circle class="b" cx="1606" r="4.7"/><circle class="c" cx="1646.6" r="0.7"/><circle class="d" cx="1687.2" r="1.7"/><circle class="e" cx="1727.9" r="9.7"/><circle class="f" cx="1768.5" r="5"/><circle class="g" cx="1809.1" r="7.7"/><circle class="h" cx="1849.7" r="8.3"/><circle class="k" cx="1890.4" r="7.7"/></g>
<g id="n47" transform="translate(0,1318.8)"><rect class="B" x="588" y="-12.9" width="222.8" height="25.8"/><text x="589.5" y="7.3">Calothrix sp. NIES 3974</text><circle class="a" cx="1565.3" r="8"/><circle class="b" cx="1606" r="3.3"/><circle class="c" cx="1646.6" r="0.7"/><circle class="d" cx="1687.2" r="5"/><circle class="e" cx="1727.9" r="9.7"/><circle class="f" cx="1768.5" r="6.7"/><circle class="g" cx="1809.1" r="7.7"/><circle class="h" cx="1849.7" r="8.3"/><circle class="k" cx="1890.4" r="6.7"/></g>
<g id="n48" transform="translate(0,1344.5)"><rect class="B" x="586" y="-12.9" width="218.2" height="25.8"/><text x="587.5" y="7.3">Calothrix sp. PCC 6303</text><circle class="a" cx="1565.3" r="7"/><circle class="b" cx="1606" r="4"/><circle class="c" cx="1646.6" r="2.3"/><circle class="d" cx="1687.2" r="2.3"/><circle class="e" cx="1727.9" r="9.7"/><circle class="f" cx="1768.5" r="6.7"/><circle class="g" cx="1809.1" r="9"/><circle class="h" cx="1849.7" r="8.3"/><circle class="k" cx="1890.4" r="7.7"/></g>
<g id="n49" transform="translate(0,1370.3)"><rect class="B" x="583" y="-12.9" width="222.8" height="25.8"/><text x="584.5" y="7.3">Calothrix sp. NIES 4071</text><circle class="a" cx="1565.3" r="5.3"/><circle class="b" cx="1606" r="2.3"/><circle class="c" cx="1646.6" r="1.3"/><circle class="d" cx="1687.2" r="2"/><circle class="e" cx="1727.9" r="9.7"/><circle class="f" cx="1768.5" r="5"/><circle class="g" cx="1809.1" r="14"/><circle class="h" cx="1849.7" r="8"/><circle class="k" cx="1890.4" r="14"/></g>
<g id="n50" transform="translate(0,1396)"><rect class="B" x="555.6" y="-12.9" width="238.7" height="25.8"/><text x="557.1" y="7.3">Nostoc piscinale CENA21</text><circle class="a" cx="1565.3" r="6.3"/><circle class="b" cx="1606" r="4.7"/><circle class="c" cx="1646.6" r="0.7"/><circle class="d" cx="1687.2" r="2"/><circle class="e" cx="1727.9" r="9.7"/><circle class="f" cx="1768.5" r="4"/><circle class="g" cx="1809.1" r="9"/><circle class="h" cx="1849.7" r="8"/><circle class="k" cx="1890.4" r="7.3"/></g>
<g id="n51" transform="translate(0,1421.7)"><rect class="B" x="558.5" y="-12.9" width="201.1" height="25.8"/><text x="560" y="7.3">Nostoc sp. PCC 7107</text><circle class="a" cx="1565.3" r="5"/><circle class="b" cx="1606" r="4"/><circle class="c" cx="1646.6" r="0.3"/><circle class="d" cx="1687.2" r="1"/><circle class="e" cx="1727.9" r="9.7"/><circle class="f" cx="1768.5" r="5.7"/><circle class="g" cx="1809.1" r="8"/><circle class="h" cx="1849.7" r="8"/><circle class="k" cx="1890.4" r="7.7"/></g>
<g id="n52" transform="translate(0,1447.4)"><rect class="B" x="554.8" y="-12.9" width="201.1" height="25.8"/><text x="556.3" y="7.3">Nostoc sp. PCC 7524</text><circle class="a" cx="1565.3" r="6.7"/><circle class="b" cx="1606" r="5"/><circle class="c" cx="1646.6" r="1"/><circle class="d" cx="1687.2" r="1.7"/><circle class="e" cx="1727.9" r="9.3"/><circle class="f" cx="1768.5" r="6.7"/><circle class="g" cx="1809.1" r="8.7"/><circle class="h" cx="1849.7" r="8.3"/><circle class="k" cx="1890.4" r="8"/></g>
<g id="n53" transform="translate(0,1473.1)"><rect class="B" x="557" y="-12.9" width="316.1" height="25.8"/><text x="558.5" y="7.3">Trichormus variabilis ATCC 29413</text><circle class="a" cx="1565.3" r="6.3"/><circle class="b" cx="1606" r="5.3"/><circle class="c" cx="1646.6" r="0.3"/><circle class="d" cx="1687.2" r="0.7"/><circle class="e" cx="1727.9" r="9"/><circle class="f" cx="1768.5" r="6"/><circle class="g" cx="1809.1" r="8"/><circle class="h" cx="1849.7" r="8"/><circle class="k" cx="1890.4" r="7.7"/></g>
<g id="n54" transform="translate(0,1498.8)"><rect class="B" x="557" y="-12.9" width="201.1" height="25.8"/><text x="558.5" y="7.3">Nostoc sp. PCC 7120</text><circle class="a" cx="1565.3" r="6.3"/><circle class="b" cx="1606" r="4.7"/><circle class="c" cx="1646.6" r="0.3"/><circle class="d" cx="1687.2" r="0.5"/><circle class="e" cx="1727.9" r="9"/><circle class="f" cx="1768.5" r="5"/><circle class="g" cx="1809.1" r="8.3"/><circle class="h" cx="1849.7" r="8"/><circle class="k" cx="1890.4" r="8"/></g>
<g id="n55" transform="translate(0,1524.6)"><rect class="B" x="561.6" y="-12.9" width="292.3" height="25.8"/><text x="563.1" y="7.3">Nodularia spumigena CCY9414</text><circle class="a" cx="1565.3" r="7.3"/><circle class="b" cx="1606" r="5"/><circle class="c" cx="1646.6" r="2.3"/><circle class="d" cx="1687.2" r="4.7"/><circle class="e" cx="1727.9" r="9.3"/><circle class="f" cx="1768.5" r="9.7"/><circle class="g" cx="1809.1" r="7"/><circle class="h" cx="1849.7" r="8.3"/><circle class="k" cx="1890.4" r="6.3"/></g>
<g id="n56" transform="translate(0,1550.3)"><rect class="B" x="560.5" y="-12.9" width="218.2" height="25.8"/><text x="562" y="7.3">Calothrix sp. PCC 7507</text><circle class="a" cx="1565.3" r="5.3"/><circle class="b" cx="1606" r="4.7"/><circle class="c" cx="1646.6" r="0.3"/><circle class="e" cx="1727.9" r="9"/><circle class="f" cx="1768.5" r="6.3"/><circle class="g" cx="1809.1" r="8.7"/><circle class="h" cx="1849.7" r="8.3"/><circle class="k" cx="1890.4" r="8.3"/></g>
<g id="n57" transform="translate(0,1576)"><rect class="B" x="560" y="-12.9" width="203.4" height="25.8"/><text x="561.5" y="7.3">Aulosira laxa NIES 50</text><circle class="a" cx="1565.3" r="6"/><circle class="b" cx="1606" r="5"/><circle class="c" cx="1646.6" r="1"/><circle class="d" cx="1687.2" r="0.7"/><circle class="e" cx="1727.9" r="9.3"/><circle class="f" cx="1768.5" r="6.3"/><circle class="g" cx="1809.1" r="11"/><circle class="h" cx="1849.7" r="8.3"/><circle class="k" cx="1890.4" r="10"/></g>
<g id="n58" transform="translate(0,1601.7)"><rect class="B" x="563" y="-12.9" width="222.8" height="25.8"/><text x="564.5" y="7.3">Calothrix sp. NIES 2100</text><circle class="a" cx="1565.3" r="6"/><circle class="b" cx="1606" r="5"/><circle class="c" cx="1646.6" r="1.7"/><circle class="d" cx="1687.2" r="0.7"/><circle class="e" cx="1727.9" r="9.7"/><circle class="f" cx="1768.5" r="6"/><circle class="g" cx="1809.1" r="12.7"/><circle class="h" cx="1849.7" r="8.3"/><circle class="k" cx="1890.4" r="10.7"/></g>
<g id="n59" transform="translate(0,1627.4)"><rect class="B" x="561" y="-12.9" width="222.8" height="25.8"/><text x="562.5" y="7.3">Calothrix sp. NIES 2098</text><circle class="a" cx="1565.3" r="5.3"/><circle class="b" cx="1606" r="5.7"/><circle class="e" cx="1727.9" r="9.3"/><circle class="f" cx="1768.5" r="4.3"/><circle class="g" cx="1809.1" r="11"/><circle class="h" cx="1849.7" r="8"/><circle class="k" cx="1890.4" r="10"/></g>
<g id="n60" transform="translate(0,1653.2)"><rect class="B" x="561.6" y="-12.9" width="292.3" height="25.8"/><text x="563.1" y="7.3">Nostoc punctiforme PCC 73102</text><circle class="a" cx="1565.3" r="5.3"/><circle class="b" cx="1606" r="5"/><circle class="c" cx="1646.6" r="0.7"/><circle class="e" cx="1727.9" r="9"/><circle class="f" cx="1768.5" r="6.7"/><circle class="g" cx="1809.1" r="10.3"/><circle class="h" cx="1849.7" r="8"/><circle class="k" cx="1890.4" r="9.7"/></g>
<g id="n61" transform="translate(0,1678.9)"><rect class="B" x="564.6" y="-12.9" width="348.1" height="25.8"/><text x="566.1" y="7.3">Cylindrospermum stagnale PCC 7417</text><circle class="a" cx="1565.3" r="6.7"/><circle class="b" cx="1606" r="6"/><circle class="c" cx="1646.6" r="1"/><circle class="d" cx="1687.2" r="1"/><circle class="e" cx="1727.9" r="9"/><circle class="f" cx="1768.5" r="6"/><circle class="g" cx="1809.1" r="9"/><circle class="h" cx="1849.7" r="8.3"/><circle class="k" cx="1890.4" r="9"/></g>
<g id="n62" transform="translate(0,1704.6)"><rect class="B" x="592.7" y="-12.9" width="203.4" height="25.8"/><text x="594.2" y="7.3">Anabaena sp. WA102</text><circle class="a" cx="1565.3" r="9.7"/><circle class="b" cx="1606" r="6.7"/><circle class="c" cx="1646.6" r="3.7"/><circle class="d" cx="1687.2" r="3.7"/><circle class="e" cx="1727.9" r="10.7"/><circle class="f" cx="1768.5" r="10.3"/><circle class="g" cx="1809.1" r="7"/><circle class="h" cx="1849.7" r="8"/><circle class="k" cx="1890.4" r="7.3"/></g>
<g id="n63" transform="translate(0,1730.3)"><rect class="B" x="592.7" y="-12.9" width="380" height="25.8"/><text x="594.2" y="7.3">Anabaena sp. 90 Chromosome chANA01</text><circle class="a" cx="1565.3" r="8.3"/><circle class="b" cx="1606" r="5.7"/><circle class="c" cx="1646.6" r="3"/><circle class="d" cx="1687.2" r="0.7"/><circle class="e" cx="1727.9" r="10.7"/><circle class="f" cx="1768.5" r="8.3"/><circle class="g" cx="1809.1" r="5.3"/><circle class="h" cx="1849.7" r="7.7"/><circle class="k" cx="1890.4" r="6.7"/></g>
<g id="n64" transform="translate(0,1756)"><rect class="B" x="577" y="-12.9" width="304.8" height="25.8"/><text x="578.5" y="7.3">Anabaena cylindrica PCC 7122 c</text><circle class="a" cx="1565.3" r="7.3"/><circle class="b" cx="1606" r="6"/><circle class="c" cx="1646.6" r="2.3"/><circle class="d" cx="1687.2" r="2.3"/><circle class="e" cx="1727.9" r="10.3"/><circle class="f" cx="1768.5" r="7"/><circle class="g" cx="1809.1" r="8"/><circle class="h" cx="1849.7" r="7.7"/><circle class="k" cx="1890.4" r="8.3"/></g>
<g id="n65" transform="translate(0,1781.7)"><rect class="B" x="588" y="-12.9" width="189.7" height="25.8"/><text x="589.5" y="7.3">Nostoc azollae 0708</text><circle class="a" cx="1565.3" r="7"/><circle class="b" cx="1606" r="2"/><circle class="c" cx="1646.6" r="3"/><circle class="d" cx="1687.2" r="0.7"/><circle class="e" cx="1727.9" r="10.7"/><circle class="f" cx="1768.5" r="12"/><circle class="g" cx="1809.1" r="7"/><circle class="h" cx="1849.7" r="7.7"/><circle class="k" cx="1890.4" r="5.3"/></g>
<g id="n66" transform="translate(0,1807.5)"><text x="608.9" y="7.3">Chamaesiphon minutus PCC 6605</text><circle class="a" cx="1565.3" r="5.3"/><circle class="b" cx="1606" r="4.3"/><circle class="c" cx="1646.6" r="0.7"/><circle class="d" cx="1687.2" r="1"/><circle class="e" cx="1727.9" r="8.7"/><circle class="f" cx="1768.5" r="8.7"/><circle class="g" cx="1809.1" r="7.3"/><circle class="h" cx="1849.7" r="9.3"/><circle class="k" cx="1890.4" r="8.7"/></g>
<g id="n67" transform="translate(0,1833.2)"><text x="531.7" y="7.3">Crinalium epipsammum PCC 9333</text><circle class="a" cx="1565.3" r="5.3"/><circle class="b" cx="1606" r="3"/><circle class="c" cx="1646.6" r="2"/><circle class="d" cx="1687.2" r="3.3"/><circle class="e" cx="1727.9" r="9.3"/><circle class="f" cx="1768.5" r="6"/><circle class="g" cx="1809.1" r="6.7"/><circle class="h" cx="1849.7" r="8"/><circle class="k" cx="1890.4" r="6.7"/></g>
<g id="n68" transform="translate(0,1858.9)"><text x="530.8" y="7.3">Microcoleus sp. PCC 7113</text><circle class="a" cx="1565.3" r="5"/><circle class="b" cx="1606" r="3.7"/><circle class="c" cx="1646.6" r="0.3"/><circle class="d" cx="1687.2" r="0.7"/><circle class="e" cx="1727.9" r="7.3"/><circle class="f" cx="1768.5" r="5.3"/><circle class="g" cx="1809.1" r="9.3"/><circle class="h" cx="1849.7" r="9.3"/><circle class="k" cx="1890.4" r="9"/></g>
<g id="n69" transform="translate(0,1884.6)"><text x="552.7" y="7.3">Moorea producens PAL 8 15 08 1</text><circle class="a" cx="1565.3" r="7.7"/><circle class="b" cx="1606" r="3"/><circle class="c" cx="1646.6" r="3.7"/><circle class="d" cx="1687.2" r="1.7"/><circle class="e" cx="1727.9" r="8.7"/><circle class="f" cx="1768.5" r="10"/><circle class="g" cx="1809.1" r="12"/><circle class="h" cx="1849.7" r="9"/><circle class="k" cx="1890.4" r="9.7"/></g>
<g id="n70" transform="translate(0,1910.3)"><text x="552.7" y="7.3">Moorea producens JHB</text><circle class="a" cx="1565.3" r="7.7"/><circle class="b" cx="1606" r="4.7"/><circle class="c" cx="1646.6" r="4.3"/><circle class="d" cx="1687.2" r="4.7"/><circle class="e" cx="1727.9" r="8.7"/><circle class="f" cx="1768.5" r="9.7"/><circle class="g" cx="1809.1" r="11.7"/><circle class="h" cx="1849.7" r="8.3"/><circle class="k" cx="1890.4" r="9.7"/></g>
<g id="n71" transform="translate(0,1936.1)"><text x="620.1" y="7.3">Dactylococcopsis salina PCC 8305</text><circle class="a" cx="1565.3" r="9"/><circle class="b" cx="1606" r="4"/><circle class="c" cx="1646.6" r="7"/><circle class="d" cx="1687.2" r="3.7"/><circle class="e" cx="1727.9" r="10"/><circle class="f" cx="1768.5" r="10"/><circle class="g" cx="1809.1" r="5"/><circle class="h" cx="1849.7" r="8.7"/><circle class="k" cx="1890.4" r="5"/></g>
<g id="n72" transform="translate(0,1961.8)"><text x="613.5" y="7.3">Halothece sp. PCC 7418</text><circle class="a" cx="1565.3" r="5.7"/><circle class="b" cx="1606" r="3.3"/><circle class="c" cx="1646.6" r="1.3"/><circle class="d" cx="1687.2" r="2.3"/><circle class="e" cx="1727.9" r="9.3"/><circle class="f" cx="1768.5" r="6"/><circle class="g" cx="1809.1" r="5.3"/><circle class="h" cx="1849.7" r="8.7"/><circle class="k" cx="1890.4" r="5.3"/></g>
<g id="n73" transform="translate(0,1987.5)"><rect class="C" x="624.8" y="-12.9" width="266.1" height="25.8"/><text x="626.3" y="7.3">Chondrocystis sp NIES 4102</text><circle class="a" cx="1565.3" r="6.3"/><circle class="b" cx="1606" r="2.3"/><circle class="c" cx="1646.6" r="2.3"/><circle class="d" cx="1687.2" r="2"/><circle class="e" cx="1727.9" r="11"/><circle class="f" cx="1768.5" r="5.3"/><circle class="g" cx="1809.1" r="5.7"/><circle class="h" cx="1849.7" r="8"/><circle class="k" cx="1890.4" r="6.3"/></g>
<g id="n74" transform="translate(0,2013.2)"><rect class="C" x="592.7" y="-12.9" width="319.6" height="25.8"/><text x="594.2" y="7.3">Stanieria cyanosphaera PCC 7437</text><circle class="a" cx="1565.3" r="5.3"/><circle class="b" cx="1606" r="3.7"/><circle class="c" cx="1646.6" r="0.3"/><circle class="d" cx="1687.2" r="1"/><circle class="e" cx="1727.9" r="11.7"/><circle class="f" cx="1768.5" r="4"/><circle class="g" cx="1809.1" r="5.7"/><circle class="h" cx="1849.7" r="7.7"/><circle class="k" cx="1890.4" r="7"/></g>
<g id="n75" transform="translate(0,2038.9)"><rect class="C" x="648.5" y="-12.9" width="280.9" height="25.8"/><text x="650" y="7.3">Synechococcus sp. PCC 7002</text><circle class="a" cx="1565.3" r="5.7"/><circle class="b" cx="1606" r="3.7"/><circle class="d" cx="1687.2" r="3.3"/><circle class="e" cx="1727.9" r="9"/><circle class="f" cx="1768.5" r="2.3"/><circle class="g" cx="1809.1" r="4"/><circle class="h" cx="1849.7" r="10.3"/><circle class="k" cx="1890.4" r="4.3"/></g>
<g id="n76" transform="translate(0,2064.6)"><rect class="C" x="656" y="-12.9" width="259.2" height="25.8"/><text x="657.5" y="7.3">Leptolyngbya sp. PCC 7376</text><circle class="a" cx="1565.3" r="4.3"/><circle class="b" cx="1606" r="2.3"/><circle class="c" cx="1646.6" r="0.3"/><circle class="d" cx="1687.2" r="3.3"/><circle class="e" cx="1727.9" r="9"/><circle class="f" cx="1768.5" r="9.7"/><circle class="g" cx="1809.1" r="6.3"/><circle class="h" cx="1849.7" r="8.7"/><circle class="k" cx="1890.4" r="6"/></g>
<g id="n77" transform="translate(0,2090.4)"><rect class="C" x="652" y="-12.9" width="325.3" height="25.8"/><text x="653.5" y="7.3">Cyanobacterium stanieri PCC 7202</text><circle class="a" cx="1565.3" r="14"/><circle class="b" cx="1606" r="8.3"/><circle class="c" cx="1646.6" r="1.3"/><circle class="d" cx="1687.2" r="14"/><circle class="e" cx="1727.9" r="10.7"/><circle class="f" cx="1768.5" r="4.3"/><circle class="g" cx="1809.1" r="4.3"/><circle class="h" cx="1849.7" r="8"/><circle class="k" cx="1890.4" r="4"/></g>
<g id="n78" transform="translate(0,2116.1)"><rect class="C" x="661" y="-12.9" width="360.6" height="25.8"/><text x="662.5" y="7.3">Cyanobacterium aponinum PCC 10605</text><circle class="a" cx="1565.3" r="12"/><circle class="b" cx="1606" r="7"/><circle class="c" cx="1646.6" r="5"/><circle class="d" cx="1687.2" r="0.3"/><circle class="e" cx="1727.9" r="12"/><circle class="f" cx="1768.5" r="7.7"/><circle class="g" cx="1809.1" r="5.3"/><circle class="h" cx="1849.7" r="7.3"/><circle class="k" cx="1890.4" r="4.7"/></g>
<g id="n79" transform="translate(0,2141.8)"><rect class="C" x="658.5" y="-12.9" width="264.9" height="25.8"/><text x="660" y="7.3">Geminocystis sp. NIES 3709</text><circle class="a" cx="1565.3" r="9.3"/><circle class="b" cx="1606" r="8"/><circle class="c" cx="1646.6" r="7"/><circle class="d" cx="1687.2" r="1"/><circle class="e" cx="1727.9" r="12.3"/><circle class="f" cx="1768.5" r="8.3"/><circle class="g" cx="1809.1" r="5.3"/><circle class="h" cx="1849.7" r="7"/><circle class="k" cx="1890.4" r="5.3"/></g>
<g id="n80" transform="translate(0,2167.5)"><rect class="C" x="659" y="-12.9" width="264.9" height="25.8"/><text x="660.5" y="7.3">Geminocystis sp. NIES 3708</text><circle class="a" cx="1565.3" r="8.7"/><circle class="b" cx="1606" r="7.7"/><circle class="c" cx="1646.6" r="4"/><circle class="e" cx="1727.9" r="12"/><circle class="f" cx="1768.5" r="5.3"/><circle class="g" cx="1809.1" r="5.3"/><circle class="h" cx="1849.7" r="6.7"/><circle class="k" cx="1890.4" r="5.3"/></g>
<g id="n81" transform="translate(0,2193.2)"><rect class="G" x="644" y="-12.9" width="268.3" height="25.8"/><text x="645.5" y="7.3">Synechocystis sp. PCC 6803</text><circle class="a" cx="1565.3" r="6"/><circle class="b" cx="1606" r="7"/><circle class="c" cx="1646.6" r="0.7"/><circle class="d" cx="1687.2" r="0.3"/><circle class="e" cx="1727.9" r="9.7"/><circle class="f" cx="1768.5" r="5"/><circle class="g" cx="1809.1" r="5"/><circle class="h" cx="1849.7" r="9.7"/><circle class="k" cx="1890.4" r="4.3"/></g>
<g id="n82" transform="translate(0,2219)"><rect class="G" x="594.5" y="-12.9" width="246.7" height="25.8"/><text x="596" y="7.3">Cyanothece sp. PCC 8801</text><circle class="a" cx="1565.3" r="8"/><circle class="b" cx="1606" r="9"/><circle class="d" cx="1687.2" r="0.7"/><circle class="e" cx="1727.9" r="10"/><circle class="f" cx="1768.5" r="5.3"/><circle class="g" cx="1809.1" r="6"/><circle class="h" cx="1849.7" r="8"/><circle class="k" cx="1890.4" r="6.3"/></g>
<g id="n83" transform="translate(0,2244.7)"><rect class="G" x="594.5" y="-12.9" width="246.7" height="25.8"/><text x="596" y="7.3">Cyanothece sp. PCC 8802</text><circle class="a" cx="1565.3" r="8"/><circle class="b" cx="1606" r="9"/><circle class="d" cx="1687.2" r="0.5"/><circle class="e" cx="1727.9" r="10"/><circle class="f" cx="1768.5" r="4.3"/><circle class="g" cx="1809.1" r="6"/><circle class="h" cx="1849.7" r="8"/><circle class="k" cx="1890.4" r="6.3"/></g>
<g id="n84" transform="translate(0,2270.4)"><rect class="G" x="606" y="-12.9" width="270.6" height="25.8"/><text x="607.5" y="7.3">Cyanothece sp. ATCC 51142</text><circle class="a" cx="1565.3" r="8.7"/><circle class="b" cx="1606" r="9"/><circle class="c" cx="1646.6" r="1.7"/><circle class="d" cx="1687.2" r="2.3"/><circle class="e" cx="1727.9" r="10.3"/><circle class="f" cx="1768.5" r="5.3"/><circle class="g" cx="1809.1" r="6.3"/><circle class="h" cx="1849.7" r="8"/><circle class="k" cx="1890.4" r="7"/></g>
<g id="n85" transform="translate(0,2296.1)"><rect class="G" x="697" y="-12.9" width="527" height="25.8"/><text x="698.5" y="7.3">Candidatus Atelocyanobacterium thalassa isolate ALOHA</text><circle class="a" cx="1565.3" r="5.7"/><circle class="b" cx="1606" r="3"/><circle class="c" cx="1646.6" r="2.3"/><circle class="e" cx="1727.9" r="11.3"/><circle class="f" cx="1768.5" r="0.3"/><circle class="g" cx="1809.1" r="1.7"/><circle class="h" cx="1849.7" r="6.3"/><circle class="k" cx="1890.4" r="1.7"/></g>
<g id="n86" transform="translate(0,2321.8)"><rect class="G" x="580.7" y="-12.9" width="251.3" height="25.8"/><text x="582.2" y="7.3">Pleurocapsa sp. PCC 7327</text><circle class="a" cx="1565.3" r="6.7"/><circle class="b" cx="1606" r="7.3"/><circle class="c" cx="1646.6" r="1"/><circle class="d" cx="1687.2" r="1.3"/><circle class="e" cx="1727.9" r="9"/><circle class="f" cx="1768.5" r="5.3"/><circle class="g" cx="1809.1" r="6.3"/><circle class="h" cx="1849.7" r="9.3"/><circle class="k" cx="1890.4" r="6.3"/></g>
<g id="n87" transform="translate(0,2347.5)"><rect class="G" x="595" y="-12.9" width="246.7" height="25.8"/><text x="596.5" y="7.3">Cyanothece sp. PCC 7424</text><circle class="a" cx="1565.3" r="8.3"/><circle class="b" cx="1606" r="5.3"/><circle class="c" cx="1646.6" r="2.3"/><circle class="d" cx="1687.2" r="3.3"/><circle class="e" cx="1727.9" r="9.7"/><circle class="f" cx="1768.5" r="7"/><circle class="g" cx="1809.1" r="7.3"/><circle class="h" cx="1849.7" r="8.3"/><circle class="k" cx="1890.4" r="8"/></g>
<g id="n88" transform="translate(0,2373.3)"><rect class="G" x="595" y="-12.9" width="246.7" height="25.8"/><text x="596.5" y="7.3">Cyanothece sp. PCC 7822</text><circle class="a" cx="1565.3" r="7.7"/><circle class="b" cx="1606" r="3"/><circle class="c" cx="1646.6" r="0.7"/><circle class="d" cx="1687.2" r="4"/><circle class="e" cx="1727.9" r="9.7"/><circle class="f" cx="1768.5" r="5"/><circle class="g" cx="1809.1" r="7.7"/><circle class="h" cx="1849.7" r="8.3"/><circle class="k" cx="1890.4" r="9.7"/></g>
<g id="n89" transform="translate(0,2399)"><rect class="G" x="619.5" y="-12.9" width="305.9" height="25.8"/><text x="621" y="7.3">Microcystis aeruginosa NIES 843</text><circle class="a" cx="1565.3" r="10"/><circle class="b" cx="1606" r="8.3"/><circle class="c" cx="1646.6" r="3"/><circle class="d" cx="1687.2" r="0.7"/><circle class="e" cx="1727.9" r="10"/><circle class="f" cx="1768.5" r="13.7"/><circle class="g" cx="1809.1" r="7.3"/><circle class="h" cx="1849.7" r="8.3"/><circle class="k" cx="1890.4" r="7.3"/></g>
<g id="n90" transform="translate(0,2424.7)"><rect class="G" x="622.6" y="-12.9" width="343.5" height="25.8"/><text x="624.1" y="7.3">Microcystis panniformis FACHB 1757</text><circle class="a" cx="1565.3" r="9.7"/><circle class="b" cx="1606" r="7.7"/><circle class="c" cx="1646.6" r="3"/><circle class="d" cx="1687.2" r="1"/><circle class="e" cx="1727.9" r="9.7"/><circle class="f" cx="1768.5" r="13.7"/><circle class="g" cx="1809.1" r="7.7"/><circle class="h" cx="1849.7" r="8.3"/><circle class="k" cx="1890.4" r="8"/></g>
<g id="n91" transform="translate(0,2450.4)"><rect class="G" x="622.6" y="-12.9" width="317.3" height="25.8"/><text x="624.1" y="7.3">Microcystis aeruginosa NIES 2481</text><circle class="a" cx="1565.3" r="8"/><circle class="b" cx="1606" r="7.7"/><circle class="c" cx="1646.6" r="0.7"/><circle class="d" cx="1687.2" r="2"/><circle class="e" cx="1727.9" r="9.7"/><circle class="f" cx="1768.5" r="8.3"/><circle class="g" cx="1809.1" r="6"/><circle class="h" cx="1849.7" r="8.3"/><circle class="k" cx="1890.4" r="6.7"/></g>
</g>
<g id="scale">
<text x="3.6" y="135.3" style="font-size:12.7px;font-weight:bold;fill:#555">Tree scale: 0.1</text>
<path d="M103.6,130.7H134M103.6,127.5V133.9M134,127.5V133.9M118.8,129V132.4" fill="none" stroke="#555" stroke-width="1.3"/>
</g>
<g id="legend">
<rect x="31" y="177" width="116" height="276" fill="#fff" stroke="#eeeeee" stroke-width="1"/>
<text x="35" y="192.3" style="font-size:14px;font-weight:bold;fill:#222">Measures</text>
<path d="M33,199.3H145" stroke="#999" stroke-width="1.5"/>
<circle class="a lc" cx="44.3" cy="215" r="9"/><text class="lg" x="62.5" y="220">SCC</text>
<circle class="b lc" cx="44.3" cy="242.6" r="9"/><text class="lg" x="62.5" y="247.6">SCC_SW</text>
<circle class="c lc" cx="44.3" cy="270.2" r="9"/><text class="lg" x="62.5" y="275.2">SCC_RY</text>
<circle class="d lc" cx="44.3" cy="297.8" r="9"/><text class="lg" x="62.5" y="302.8">SCC_KM</text>
<circle class="e lc" cx="44.3" cy="325.4" r="9"/><text class="lg" x="62.5" y="330.4">GS</text>
<circle class="f lc" cx="44.3" cy="353" r="9"/><text class="lg" x="62.5" y="358">BB</text>
<circle class="g lc" cx="44.3" cy="380.6" r="9"/><text class="lg" x="62.5" y="385.6">Genome size</text>
<circle class="h lc" cx="44.3" cy="408.2" r="9"/><text class="lg" x="62.5" y="413.2">%GC</text>
<circle class="k lc" cx="44.3" cy="435.8" r="9"/><text class="lg" x="62.5" y="440.8">No. of genes</text>
</g>
</svg>
